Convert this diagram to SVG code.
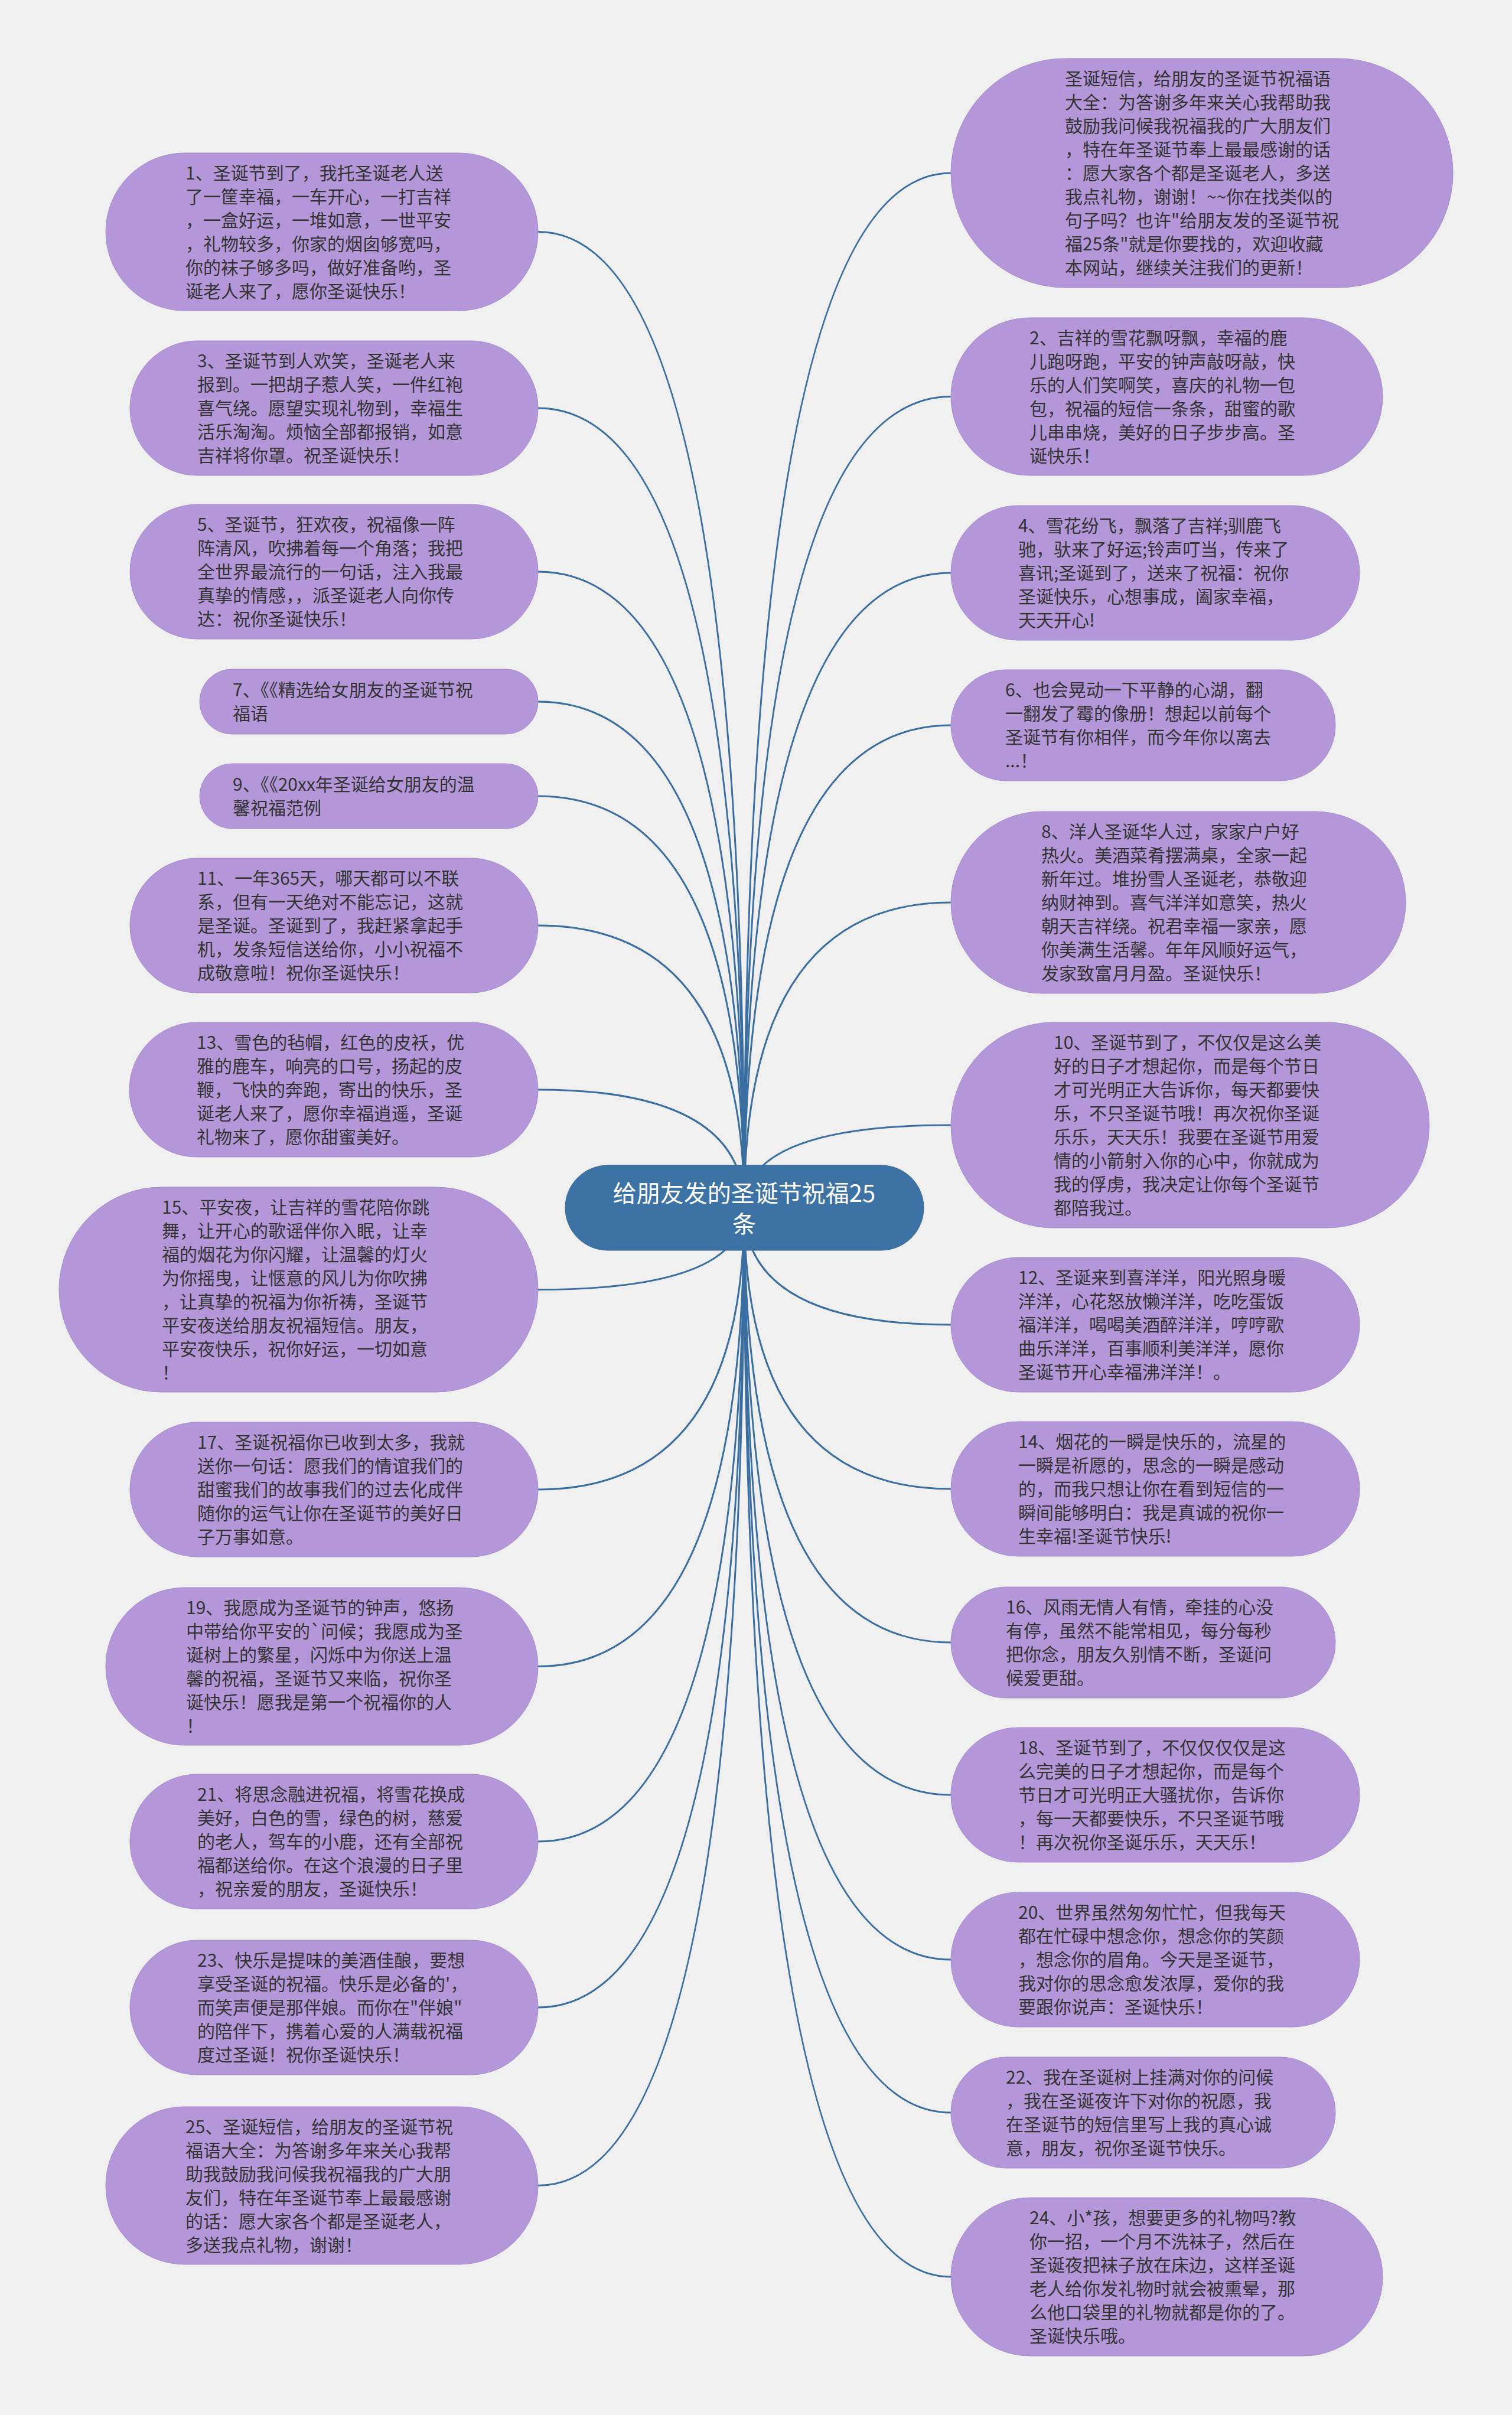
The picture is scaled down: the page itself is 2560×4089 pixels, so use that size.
<svg xmlns="http://www.w3.org/2000/svg" width="2560" height="4089" viewBox="0 0 2560 4089">
<style>
.bg{fill:#f0f0f0}
.node rect{fill:#b497d9;stroke:#a98bd1;stroke-width:1}
.node text{font-family:"Noto Sans CJK SC","Noto Sans",sans-serif;font-size:30px;fill:#333333}
.conn path{fill:none;stroke:#3a6ea1;stroke-width:3}
#center rect{fill:#3d72a5;stroke:#36699a;stroke-width:1}
#center text{font-family:"Noto Sans CJK SC","Noto Sans",sans-serif;font-size:40px;fill:#ffffff;text-anchor:middle}
</style>
<rect class="bg" x="0" y="0" width="2560" height="4089"/>
<g id="connectors" class="conn">
<path d="M1260,2045 Q1260,392.5 911,392.5"/>
<path d="M1260,2045 Q1260,691 911,691"/>
<path d="M1260,2045 Q1260,968 911,968"/>
<path d="M1260,2045 Q1260,1188 911,1188"/>
<path d="M1260,2045 Q1260,1348 911,1348"/>
<path d="M1260,2045 Q1260,1567 911,1567"/>
<path d="M1260,2045 Q1260,1845 911,1845"/>
<path d="M1260,2045 Q1260,2183.5 911,2183.5"/>
<path d="M1260,2045 Q1260,2522 911,2522"/>
<path d="M1260,2045 Q1260,2821.5 911,2821.5"/>
<path d="M1260,2045 Q1260,3118 911,3118"/>
<path d="M1260,2045 Q1260,3399 911,3399"/>
<path d="M1260,2045 Q1260,3700.5 911,3700.5"/>
<path d="M1260,2045 Q1260,293 1610,293"/>
<path d="M1260,2045 Q1260,671.5 1610,671.5"/>
<path d="M1260,2045 Q1260,970 1610,970"/>
<path d="M1260,2045 Q1260,1228 1610,1228"/>
<path d="M1260,2045 Q1260,1528 1610,1528"/>
<path d="M1260,2045 Q1260,1905 1610,1905"/>
<path d="M1260,2045 Q1260,2243 1610,2243"/>
<path d="M1260,2045 Q1260,2521 1610,2521"/>
<path d="M1260,2045 Q1260,2781 1610,2781"/>
<path d="M1260,2045 Q1260,3039 1610,3039"/>
<path d="M1260,2045 Q1260,3318 1610,3318"/>
<path d="M1260,2045 Q1260,3577 1610,3577"/>
<path d="M1260,2045 Q1260,3855 1610,3855"/>
</g>
<g id="center">
<rect x="957" y="1973" width="607" height="144" rx="72"/>
<text x="1260" y="2035"><tspan x="1260">给朋友发的圣诞节祝福25</tspan><tspan x="1260" dy="52">条</tspan></text>
</g>
<g id="n1" class="node"><rect x="179" y="259" width="732" height="267" rx="133.5"/>
<text y="303.5"><tspan x="314">1、圣诞节到了，我托圣诞老人送</tspan><tspan x="314" dy="40">了一筐幸福，一车开心，一打吉祥</tspan><tspan x="314" dy="40">，一盒好运，一堆如意，一世平安</tspan><tspan x="314" dy="40">，礼物较多，你家的烟囱够宽吗，</tspan><tspan x="314" dy="40">你的袜子够多吗，做好准备哟，圣</tspan><tspan x="314" dy="40">诞老人来了，愿你圣诞快乐！</tspan></text></g>
<g id="n3" class="node"><rect x="220" y="577" width="691" height="228" rx="114"/>
<text y="622"><tspan x="334">3、圣诞节到人欢笑，圣诞老人来</tspan><tspan x="334" dy="40">报到。一把胡子惹人笑，一件红袍</tspan><tspan x="334" dy="40">喜气绕。愿望实现礼物到，幸福生</tspan><tspan x="334" dy="40">活乐淘淘。烦恼全部都报销，如意</tspan><tspan x="334" dy="40">吉祥将你罩。祝圣诞快乐！</tspan></text></g>
<g id="n5" class="node"><rect x="220" y="854" width="691" height="228" rx="114"/>
<text y="899"><tspan x="334">5、圣诞节，狂欢夜，祝福像一阵</tspan><tspan x="334" dy="40">阵清风，吹拂着每一个角落；我把</tspan><tspan x="334" dy="40">全世界最流行的一句话，注入我最</tspan><tspan x="334" dy="40">真挚的情感，，派圣诞老人向你传</tspan><tspan x="334" dy="40">达：祝你圣诞快乐！</tspan></text></g>
<g id="n7" class="node"><rect x="338" y="1133" width="573" height="110" rx="55"/>
<text y="1179"><tspan x="394">7、《《精选给女朋友的圣诞节祝</tspan><tspan x="394" dy="40">福语</tspan></text></g>
<g id="n9" class="node"><rect x="338" y="1293" width="573" height="110" rx="55"/>
<text y="1339"><tspan x="394">9、《《20xx年圣诞给女朋友的温</tspan><tspan x="394" dy="40">馨祝福范例</tspan></text></g>
<g id="n11" class="node"><rect x="220" y="1453" width="691" height="228" rx="114"/>
<text y="1498"><tspan x="334">11、一年365天，哪天都可以不联</tspan><tspan x="334" dy="40">系，但有一天绝对不能忘记，这就</tspan><tspan x="334" dy="40">是圣诞。圣诞到了，我赶紧拿起手</tspan><tspan x="334" dy="40">机，发条短信送给你，小小祝福不</tspan><tspan x="334" dy="40">成敬意啦！祝你圣诞快乐！</tspan></text></g>
<g id="n13" class="node"><rect x="219" y="1731" width="692" height="228" rx="114"/>
<text y="1776"><tspan x="333">13、雪色的毡帽，红色的皮袄，优</tspan><tspan x="333" dy="40">雅的鹿车，响亮的口号，扬起的皮</tspan><tspan x="333" dy="40">鞭，飞快的奔跑，寄出的快乐，圣</tspan><tspan x="333" dy="40">诞老人来了，愿你幸福逍遥，圣诞</tspan><tspan x="333" dy="40">礼物来了，愿你甜蜜美好。</tspan></text></g>
<g id="n15" class="node"><rect x="100" y="2010" width="811" height="347" rx="173.5"/>
<text y="2054.5"><tspan x="274">15、平安夜，让吉祥的雪花陪你跳</tspan><tspan x="274" dy="40">舞，让开心的歌谣伴你入眠，让幸</tspan><tspan x="274" dy="40">福的烟花为你闪耀，让温馨的灯火</tspan><tspan x="274" dy="40">为你摇曳，让惬意的风儿为你吹拂</tspan><tspan x="274" dy="40">，让真挚的祝福为你祈祷，圣诞节</tspan><tspan x="274" dy="40">平安夜送给朋友祝福短信。朋友，</tspan><tspan x="274" dy="40">平安夜快乐，祝你好运，一切如意</tspan><tspan x="274" dy="40">！</tspan></text></g>
<g id="n17" class="node"><rect x="220" y="2408" width="691" height="228" rx="114"/>
<text y="2453"><tspan x="334">17、圣诞祝福你已收到太多，我就</tspan><tspan x="334" dy="40">送你一句话：愿我们的情谊我们的</tspan><tspan x="334" dy="40">甜蜜我们的故事我们的过去化成伴</tspan><tspan x="334" dy="40">随你的运气让你在圣诞节的美好日</tspan><tspan x="334" dy="40">子万事如意。</tspan></text></g>
<g id="n19" class="node"><rect x="179" y="2688" width="732" height="267" rx="133.5"/>
<text y="2732.5"><tspan x="315">19、我愿成为圣诞节的钟声，悠扬</tspan><tspan x="315" dy="40">中带给你平安的`问候；我愿成为圣</tspan><tspan x="315" dy="40">诞树上的繁星，闪烁中为你送上温</tspan><tspan x="315" dy="40">馨的祝福，圣诞节又来临，祝你圣</tspan><tspan x="315" dy="40">诞快乐！愿我是第一个祝福你的人</tspan><tspan x="315" dy="40">！</tspan></text></g>
<g id="n21" class="node"><rect x="220" y="3004" width="691" height="228" rx="114"/>
<text y="3049"><tspan x="334">21、将思念融进祝福，将雪花换成</tspan><tspan x="334" dy="40">美好，白色的雪，绿色的树，慈爱</tspan><tspan x="334" dy="40">的老人，驾车的小鹿，还有全部祝</tspan><tspan x="334" dy="40">福都送给你。在这个浪漫的日子里</tspan><tspan x="334" dy="40">，祝亲爱的朋友，圣诞快乐！</tspan></text></g>
<g id="n23" class="node"><rect x="220" y="3285" width="691" height="228" rx="114"/>
<text y="3330"><tspan x="334">23、快乐是提味的美酒佳酿，要想</tspan><tspan x="334" dy="40">享受圣诞的祝福。快乐是必备的'，</tspan><tspan x="334" dy="40">而笑声便是那伴娘。而你在"伴娘"</tspan><tspan x="334" dy="40">的陪伴下，携着心爱的人满载祝福</tspan><tspan x="334" dy="40">度过圣诞！祝你圣诞快乐！</tspan></text></g>
<g id="n25" class="node"><rect x="179" y="3567" width="732" height="267" rx="133.5"/>
<text y="3611.5"><tspan x="314">25、圣诞短信，给朋友的圣诞节祝</tspan><tspan x="314" dy="40">福语大全：为答谢多年来关心我帮</tspan><tspan x="314" dy="40">助我鼓励我问候我祝福我的广大朋</tspan><tspan x="314" dy="40">友们，特在年圣诞节奉上最最感谢</tspan><tspan x="314" dy="40">的话：愿大家各个都是圣诞老人，</tspan><tspan x="314" dy="40">多送我点礼物，谢谢！</tspan></text></g>
<g id="r0" class="node"><rect x="1610" y="99" width="850" height="388" rx="194"/>
<text y="144"><tspan x="1803">圣诞短信，给朋友的圣诞节祝福语</tspan><tspan x="1803" dy="40">大全：为答谢多年来关心我帮助我</tspan><tspan x="1803" dy="40">鼓励我问候我祝福我的广大朋友们</tspan><tspan x="1803" dy="40">，特在年圣诞节奉上最最感谢的话</tspan><tspan x="1803" dy="40">：愿大家各个都是圣诞老人，多送</tspan><tspan x="1803" dy="40">我点礼物，谢谢！~~你在找类似的</tspan><tspan x="1803" dy="40">句子吗？也许"给朋友发的圣诞节祝</tspan><tspan x="1803" dy="40">福25条"就是你要找的，欢迎收藏</tspan><tspan x="1803" dy="40">本网站，继续关注我们的更新！</tspan></text></g>
<g id="r2" class="node"><rect x="1610" y="538" width="731" height="267" rx="133.5"/>
<text y="582.5"><tspan x="1743">2、吉祥的雪花飘呀飘，幸福的鹿</tspan><tspan x="1743" dy="40">儿跑呀跑，平安的钟声敲呀敲，快</tspan><tspan x="1743" dy="40">乐的人们笑啊笑，喜庆的礼物一包</tspan><tspan x="1743" dy="40">包，祝福的短信一条条，甜蜜的歌</tspan><tspan x="1743" dy="40">儿串串烧，美好的日子步步高。圣</tspan><tspan x="1743" dy="40">诞快乐！</tspan></text></g>
<g id="r4" class="node"><rect x="1610" y="856" width="692" height="228" rx="114"/>
<text y="901"><tspan x="1724">4、雪花纷飞，飘落了吉祥;驯鹿飞</tspan><tspan x="1724" dy="40">驰，驮来了好运;铃声叮当，传来了</tspan><tspan x="1724" dy="40">喜讯;圣诞到了，送来了祝福：祝你</tspan><tspan x="1724" dy="40">圣诞快乐，心想事成，阖家幸福，</tspan><tspan x="1724" dy="40">天天开心!</tspan></text></g>
<g id="r6" class="node"><rect x="1610" y="1134" width="651" height="188" rx="94"/>
<text y="1179"><tspan x="1702">6、也会晃动一下平静的心湖，翻</tspan><tspan x="1702" dy="40">一翻发了霉的像册！想起以前每个</tspan><tspan x="1702" dy="40">圣诞节有你相伴，而今年你以离去</tspan><tspan x="1702" dy="40">...！</tspan></text></g>
<g id="r8" class="node"><rect x="1610" y="1374" width="770" height="308" rx="154"/>
<text y="1419"><tspan x="1763">8、洋人圣诞华人过，家家户户好</tspan><tspan x="1763" dy="40">热火。美酒菜肴摆满桌，全家一起</tspan><tspan x="1763" dy="40">新年过。堆扮雪人圣诞老，恭敬迎</tspan><tspan x="1763" dy="40">纳财神到。喜气洋洋如意笑，热火</tspan><tspan x="1763" dy="40">朝天吉祥绕。祝君幸福一家亲，愿</tspan><tspan x="1763" dy="40">你美满生活馨。年年风顺好运气，</tspan><tspan x="1763" dy="40">发家致富月月盈。圣诞快乐！</tspan></text></g>
<g id="r10" class="node"><rect x="1610" y="1731" width="810" height="348" rx="174"/>
<text y="1776"><tspan x="1784">10、圣诞节到了，不仅仅是这么美</tspan><tspan x="1784" dy="40">好的日子才想起你，而是每个节日</tspan><tspan x="1784" dy="40">才可光明正大告诉你，每天都要快</tspan><tspan x="1784" dy="40">乐，不只圣诞节哦！再次祝你圣诞</tspan><tspan x="1784" dy="40">乐乐，天天乐！我要在圣诞节用爱</tspan><tspan x="1784" dy="40">情的小箭射入你的心中，你就成为</tspan><tspan x="1784" dy="40">我的俘虏，我决定让你每个圣诞节</tspan><tspan x="1784" dy="40">都陪我过。</tspan></text></g>
<g id="r12" class="node"><rect x="1610" y="2129" width="692" height="228" rx="114"/>
<text y="2174"><tspan x="1724">12、圣诞来到喜洋洋，阳光照身暖</tspan><tspan x="1724" dy="40">洋洋，心花怒放懒洋洋，吃吃蛋饭</tspan><tspan x="1724" dy="40">福洋洋，喝喝美酒醉洋洋，哼哼歌</tspan><tspan x="1724" dy="40">曲乐洋洋，百事顺利美洋洋，愿你</tspan><tspan x="1724" dy="40">圣诞节开心幸福沸洋洋！。</tspan></text></g>
<g id="r14" class="node"><rect x="1610" y="2407" width="692" height="228" rx="114"/>
<text y="2452"><tspan x="1724">14、烟花的一瞬是快乐的，流星的</tspan><tspan x="1724" dy="40">一瞬是祈愿的，思念的一瞬是感动</tspan><tspan x="1724" dy="40">的，而我只想让你在看到短信的一</tspan><tspan x="1724" dy="40">瞬间能够明白：我是真诚的祝你一</tspan><tspan x="1724" dy="40">生幸福!圣诞节快乐!</tspan></text></g>
<g id="r16" class="node"><rect x="1610" y="2687" width="651" height="188" rx="94"/>
<text y="2732"><tspan x="1703">16、风雨无情人有情，牵挂的心没</tspan><tspan x="1703" dy="40">有停，虽然不能常相见，每分每秒</tspan><tspan x="1703" dy="40">把你念，朋友久别情不断，圣诞问</tspan><tspan x="1703" dy="40">候爱更甜。</tspan></text></g>
<g id="r18" class="node"><rect x="1610" y="2925" width="692" height="228" rx="114"/>
<text y="2970"><tspan x="1724">18、圣诞节到了，不仅仅仅仅是这</tspan><tspan x="1724" dy="40">么完美的日子才想起你，而是每个</tspan><tspan x="1724" dy="40">节日才可光明正大骚扰你，告诉你</tspan><tspan x="1724" dy="40">，每一天都要快乐，不只圣诞节哦</tspan><tspan x="1724" dy="40">！再次祝你圣诞乐乐，天天乐！</tspan></text></g>
<g id="r20" class="node"><rect x="1610" y="3204" width="692" height="228" rx="114"/>
<text y="3249"><tspan x="1724">20、世界虽然匆匆忙忙，但我每天</tspan><tspan x="1724" dy="40">都在忙碌中想念你，想念你的笑颜</tspan><tspan x="1724" dy="40">，想念你的眉角。今天是圣诞节，</tspan><tspan x="1724" dy="40">我对你的思念愈发浓厚，爱你的我</tspan><tspan x="1724" dy="40">要跟你说声：圣诞快乐！</tspan></text></g>
<g id="r22" class="node"><rect x="1610" y="3483" width="651" height="188" rx="94"/>
<text y="3528"><tspan x="1703">22、我在圣诞树上挂满对你的问候</tspan><tspan x="1703" dy="40">，我在圣诞夜许下对你的祝愿，我</tspan><tspan x="1703" dy="40">在圣诞节的短信里写上我的真心诚</tspan><tspan x="1703" dy="40">意，朋友，祝你圣诞节快乐。</tspan></text></g>
<g id="r24" class="node"><rect x="1610" y="3721" width="731" height="268" rx="134"/>
<text y="3766"><tspan x="1743">24、小*孩，想要更多的礼物吗?教</tspan><tspan x="1743" dy="40">你一招，一个月不洗袜子，然后在</tspan><tspan x="1743" dy="40">圣诞夜把袜子放在床边，这样圣诞</tspan><tspan x="1743" dy="40">老人给你发礼物时就会被熏晕，那</tspan><tspan x="1743" dy="40">么他口袋里的礼物就都是你的了。</tspan><tspan x="1743" dy="40">圣诞快乐哦。</tspan></text></g>
</svg>
